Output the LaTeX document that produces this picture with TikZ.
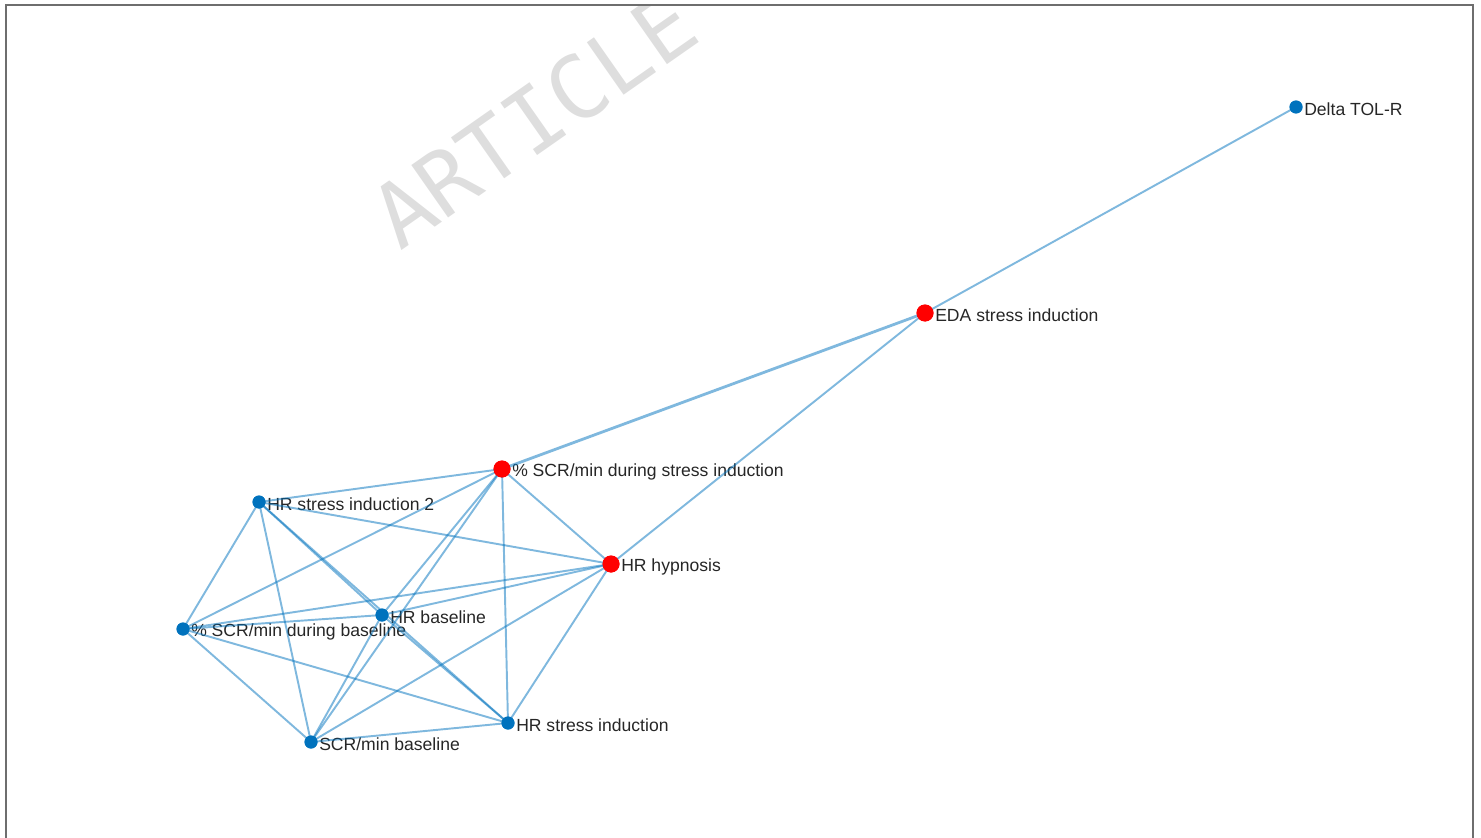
\documentclass[tikz,border=0pt]{standalone}
\usepackage{fontspec}
\setmainfont{Liberation Sans}
\newfontfamily\wmfont{DejaVu Sans Mono}
\definecolor{NodeBlue}{RGB}{0, 114, 189}
\definecolor{NodeRed}{RGB}{255, 0, 0}
\definecolor{FrameGray}{RGB}{110, 110, 110}
\usepackage{tikz}
\usetikzlibrary{positioning}

\begin{document}
\begin{tikzpicture}[x=0.02cm, y=-0.02cm,
    link/.style={draw=NodeBlue, draw opacity=0.5, line width=1.1pt},
    pdot/.style={circle, fill=NodeBlue, inner sep=0pt, minimum size=0.26cm},
    rdot/.style={circle, fill=NodeRed, inner sep=0pt, minimum size=0.34cm},
    lbl/.style={inner sep=0.6pt, yshift=-0.05cm, font=\normalsize, text=black!85}]
        \useasboundingbox (0,0) rectangle (1481,838);

        % watermark
        \begin{scope}
            \clip (6,5) rectangle (1473,838);
            \node[anchor=base west, rotate=35, inner sep=0pt, text=black!13,
                  font=\wmfont\fontsize{50}{50}\selectfont] (wm) at (400,252) {ARTICLE IN PRESS};
        \end{scope}

        % frame
        \draw[FrameGray, line width=1.2pt] (6,850) -- (6,5) -- (1473,5) -- (1473,850);

        % nodes
        \node[pdot, label={[lbl]east:Delta TOL-R}] (DT) at (1296,107) {};
        \node[rdot, label={[lbl]east:EDA stress induction}] (EDA) at (925,313) {};
        \node[rdot, label={[lbl]east:\% SCR/min during stress induction}] (SCRs) at (502,469) {};
        \node[rdot, label={[lbl]east:HR hypnosis}] (HRh) at (611,564) {};
        \node[pdot, label={[lbl]east:HR stress induction 2}] (HRs2) at (259,502) {};
        \node[pdot, label={[lbl]east:HR baseline}] (HRb) at (382,615) {};
        \node[pdot, label={[lbl]east:\% SCR/min during baseline}] (SCRpb) at (183,629) {};
        \node[pdot, label={[lbl]east:SCR/min baseline}] (SCRb) at (311,742) {};
        \node[pdot, label={[lbl]east:HR stress induction}] (HRs) at (508,723) {};

        % edges
        \draw[link] (DT.center) -- (EDA.center);
        \draw[link, line width=1.6pt] (EDA.center) -- (SCRs.center);
        \draw[link] (EDA.center) -- (HRh.center);
        \draw[link] (SCRs.center) -- (HRh.center);
        \draw[link] (SCRs.center) -- (HRs.center);
        \draw[link] (SCRs.center) -- (HRs2.center);
        \draw[link] (SCRs.center) -- (SCRpb.center);
        \draw[link] (SCRs.center) -- (HRb.center);
        \draw[link] (SCRs.center) -- (SCRb.center);
        \draw[link] (HRh.center) -- (HRs.center);
        \draw[link] (HRh.center) -- (SCRb.center);
        \draw[link] (HRh.center) -- (HRb.center);
        \draw[link] (HRh.center) -- (SCRpb.center);
        \draw[link] (HRh.center) -- (HRs2.center);
        \draw[link] (HRs2.center) -- (SCRpb.center);
        \draw[link] (HRs2.center) -- (SCRb.center);
        \draw[link] (HRs2.center) -- (HRb.center);
        \draw[link] (HRs2.center) -- (HRs.center);
        \draw[link] (HRb.center) -- (HRs.center);
        \draw[link] (SCRpb.center) -- (HRb.center);
        \draw[link] (SCRpb.center) -- (SCRb.center);
        \draw[link] (SCRpb.center) -- (HRs.center);
        \draw[link] (SCRb.center) -- (HRb.center);
        \draw[link] (SCRb.center) -- (HRs.center);

        % markers again on top of the edges
        \foreach \n in {DT, HRs2, HRb, SCRpb, SCRb, HRs} \fill[NodeBlue] (\n.center) circle (0.13cm);
        \foreach \n in {EDA, SCRs, HRh} \fill[NodeRed] (\n.center) circle (0.17cm);
\end{tikzpicture}
\end{document}
